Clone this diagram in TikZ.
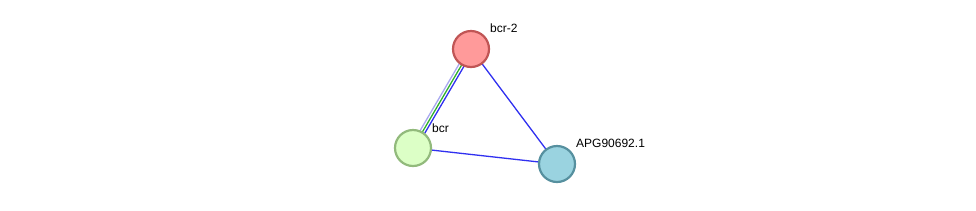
\documentclass[tikz,border=0pt]{standalone}
\usepackage{fontspec}
\setmainfont{Liberation Sans}
\usetikzlibrary{backgrounds}
\definecolor{redfill}{HTML}{FF9A9A}
\definecolor{redline}{HTML}{C05555}
\definecolor{grnfill}{HTML}{DCFFC6}
\definecolor{grnline}{HTML}{92BA7C}
\definecolor{bluefill}{HTML}{9AD3E0}
\definecolor{blueline}{HTML}{56909F}
\definecolor{lav}{HTML}{A8A8F0}
\definecolor{edgeblue}{HTML}{3030F0}
\definecolor{edgegreen}{HTML}{30B030}
\begin{document}
\begin{tikzpicture}[x=1pt,y=1pt,
  prot/.style={circle, minimum size=36pt, inner sep=0pt, line width=2.2pt},
  lbl/.style={anchor=west, inner sep=0pt, font=\fontsize{12}{14}\selectfont},
  edge/.style={line width=1.3pt}]
\useasboundingbox (0,0) rectangle (976,-210);
\node[prot, fill=redfill, draw=redline] (bcr2) at (471,-49) {};
\node[prot, fill=grnfill, draw=grnline] (bcr) at (413,-148) {};
\node[prot, fill=bluefill, draw=blueline] (apg) at (557,-164) {};
\begin{scope}[on background layer]
\draw[edge, lav, transform canvas={shift={(-2.3pt,1.35pt)}}] (bcr.center) -- (bcr2.center);
\draw[edge, edgegreen] (bcr.center) -- (bcr2.center);
\draw[edge, edgeblue, transform canvas={shift={(2.3pt,-1.35pt)}}] (bcr.center) -- (bcr2.center);
\draw[edge, edgeblue] (bcr2.center) -- (apg.center);
\draw[edge, edgeblue] (bcr.center) -- (apg.center);
\end{scope}
\node[lbl] (l1) at (490,-28) {bcr-2};
\node[lbl] (l2) at (432,-128) {bcr};
\node[lbl] (l3) at (576,-143) {APG90692.1};
\end{tikzpicture}
\end{document}
